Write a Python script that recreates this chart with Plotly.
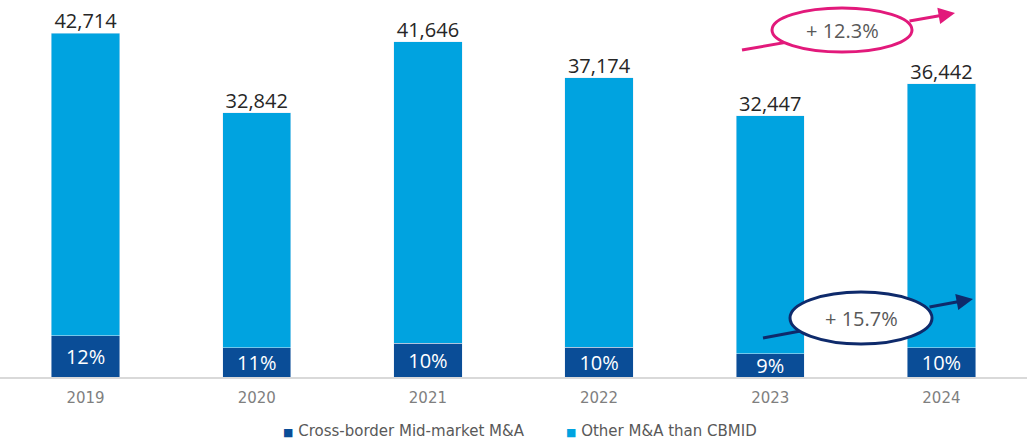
import plotly.graph_objects as go

# data
years = ["2019", "2020", "2021", "2022", "2023", "2024"]
totals = [42714, 32842, 41646, 37174, 32447, 36442]
cbmid_share = [12, 11, 10, 10, 9, 10]  # % of total, shown in dark segment
cbmid_values = [5126, 3613, 4165, 3717, 2920, 3644]
other_values = [t - c for t, c in zip(totals, cbmid_values)]
total_labels = [f"{t:,}" for t in totals]
share_labels = [f"{s}%" for s in cbmid_share]
series_names = ["Cross-border Mid-market M&A", "Other M&A than CBMID"]

COLORS = {
    "dark": "#0A4D97",
    "light": "#00A3E0",
    "pink": "#E2197B",
    "navy": "#0E2A6B",
    "text": "#262626",
    "grey": "#7F7F7F",
    "axis": "#D9D9D9",
}

W, H = 1027, 441
PLOT_BOTTOM = 377  # px from top where the axis sits


def px(x):
    return x / W


def py(y):
    return (PLOT_BOTTOM - y) / PLOT_BOTTOM


fig = go.Figure()
fig.add_trace(
    go.Bar(
        x=years,
        y=cbmid_values,
        name=series_names[0],
        marker_color=COLORS["dark"],
        text=share_labels,
        textposition="inside",
        insidetextanchor="middle",
        constraintext="none",
        textfont=dict(color="white", size=20, family="Open Sans"),
        hoverinfo="skip",
    )
)
fig.add_trace(
    go.Bar(
        x=years,
        y=other_values,
        name=series_names[1],
        marker_color=COLORS["light"],
        hoverinfo="skip",
    )
)
# totals above the bars
fig.add_trace(
    go.Scatter(
        x=years,
        y=totals,
        mode="text",
        text=total_labels,
        textposition="top center",
        textfont=dict(color=COLORS["text"], size=20, family="Open Sans"),
        showlegend=False,
        hoverinfo="skip",
        cliponaxis=False,
    )
)

shapes = []
annotations = []
for (x0, y0, x1, y1, cx, cy, rx, ry, color, label) in [
    (742, 50, 955, 13, 842, 30, 70, 22, COLORS["pink"], "+ 12.3%"),
    (763, 338, 973, 299, 861, 318, 71, 26, COLORS["navy"], "+ 15.7%"),
]:
    slope = (y1 - y0) / (x1 - x0)
    # tail segment up to the ellipse
    shapes.append(dict(type="line", xref="paper", yref="paper",
                       x0=px(x0), y0=py(y0), x1=px(cx), y1=py(y0 + slope * (cx - x0)),
                       line=dict(color=color, width=3)))
    shapes.append(dict(type="circle", xref="paper", yref="paper",
                       x0=px(cx - rx), x1=px(cx + rx), y0=py(cy + ry), y1=py(cy - ry),
                       fillcolor="white", line=dict(color=color, width=3), layer="above"))
    ex = cx + rx - 4
    annotations.append(dict(xref="paper", yref="paper", x=px(x1), y=py(y1),
                            ax=ex - x1, ay=(y0 + slope * (ex - x0)) - y1,
                            text="", showarrow=True, arrowhead=2, arrowsize=1.1,
                            arrowwidth=3, arrowcolor=color))
    annotations.append(dict(xref="paper", yref="paper", x=px(cx), y=py(cy),
                            xanchor="center", yanchor="middle",
                            text=label, showarrow=False,
                            font=dict(size=20, color="#595959", family="Open Sans")))

# legend drawn as text so the marker sits close to the label
for name, color, lx in [(series_names[0], COLORS["dark"], 281),
                        (series_names[1], COLORS["light"], 564)]:
    annotations.append(dict(xref="paper", yref="paper", x=px(lx), y=py(431),
                            xanchor="left", yanchor="middle", showarrow=False,
                            text=f'<span style="color:{color};font-size:11px">■</span> {name}',
                            font=dict(size=15, color="#595959", family="DejaVu Sans")))

fig.update_layout(
    barmode="stack",
    bargap=0.6,
    width=W,
    height=H,
    paper_bgcolor="white",
    plot_bgcolor="white",
    margin=dict(l=0, r=0, t=0, b=H - PLOT_BOTTOM),
    xaxis=dict(
        showline=True,
        linecolor=COLORS["axis"],
        linewidth=2,
        ticks="",
        ticklabelstandoff=6,
        tickfont=dict(color=COLORS["grey"], size=15, family="DejaVu Sans"),
    ),
    yaxis=dict(visible=False, range=[0, 46860]),
    uniformtext=dict(minsize=20, mode="show"),
    shapes=shapes,
    annotations=annotations,
    showlegend=False,
)

fig.write_html("out.html", config={"displayModeBar": False},
               post_script="document.body.style.margin='0';")
